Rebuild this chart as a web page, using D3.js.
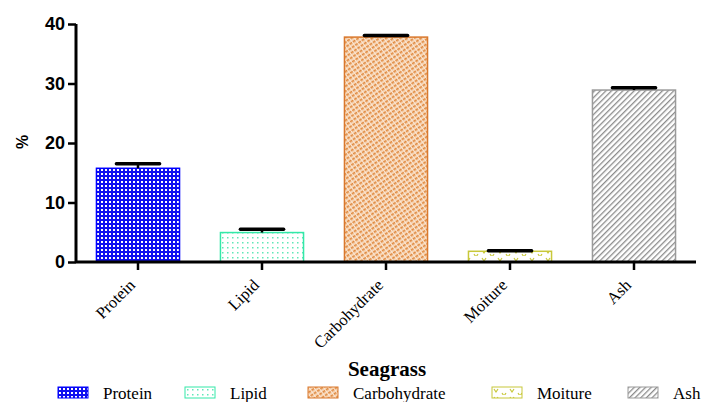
<!DOCTYPE html>
<html>
<head>
<meta charset="utf-8">
<script src="https://cdn.jsdelivr.net/npm/d3@7"></script>
<style>
  body { margin: 0; background: #fff; }
  svg { display: block; }
</style>
</head>
<body>
<div id="chart"></div>
<script>
const categories = ["Protein", "Lipid", "Carbohydrate", "Moiture", "Ash"];
const values = [15.75, 4.95, 37.8, 1.8, 28.9];
const errors = [0.75, 0.55, 0.25, 0.1, 0.4];
const yTicks = [0, 10, 20, 30, 40];
const colors = ["#0000ff", "#33e8a8", "#d9782d", "#c8c83a", "#9a9a9a"];
const patternIds = ["pProtein", "pLipid", "pCarbo", "pMoist", "pAsh"];

const W = 701, H = 402;
const svg = d3.select("#chart").append("svg")
  .attr("width", W).attr("height", H);

const defs = svg.append("defs");

// protein: blue checker
let p = defs.append("pattern").attr("id", "pProtein").attr("patternUnits", "userSpaceOnUse")
  .attr("width", 4).attr("height", 4);
p.append("rect").attr("width", 4).attr("height", 4).attr("fill", "#1010f0");
p.append("rect").attr("x", 1).attr("y", 1).attr("width", 2).attr("height", 2).attr("fill", "#ffffff");

// lipid: sparse green dots
p = defs.append("pattern").attr("id", "pLipid").attr("patternUnits", "userSpaceOnUse")
  .attr("width", 5).attr("height", 5);
p.append("rect").attr("width", 5).attr("height", 5).attr("fill", "#fff");
p.append("rect").attr("x", 2).attr("y", 2).attr("width", 1.5).attr("height", 1.5).attr("fill", "#5fe8b8");

// carbohydrate: orange crosshatch
p = defs.append("pattern").attr("id", "pCarbo").attr("patternUnits", "userSpaceOnUse")
  .attr("width", 4).attr("height", 4).attr("patternTransform", "rotate(-35)");
p.append("rect").attr("width", 4).attr("height", 4).attr("fill", "#f6d4b4");
p.append("rect").attr("width", 4).attr("height", 1.6).attr("fill", "#e08a40");
p.append("rect").attr("x", 0).attr("width", 1).attr("height", 4).attr("fill", "#fbe8d6");

// moisture: small v marks
p = defs.append("pattern").attr("id", "pMoist").attr("patternUnits", "userSpaceOnUse")
  .attr("width", 16).attr("height", 8);
p.append("rect").attr("width", 16).attr("height", 8).attr("fill", "#fff");
p.append("path").attr("d", "M2,2 L4,5 L6,2 M10,6 L12,9 L14,6").attr("stroke", "#c8c83a")
  .attr("stroke-width", 1.2).attr("fill", "none");

// ash: gray diagonal lines (/)
p = defs.append("pattern").attr("id", "pAsh").attr("patternUnits", "userSpaceOnUse")
  .attr("width", 4).attr("height", 4).attr("patternTransform", "rotate(-45)");
p.append("rect").attr("width", 4).attr("height", 4).attr("fill", "#fff");
p.append("rect").attr("width", 4).attr("height", 1.3).attr("fill", "#8c8c8c");

const x = d3.scaleBand().domain(categories).range([76, 696])
  .paddingInner(0.33).paddingOuter(0.165);
const y = d3.scaleLinear().domain([0, 40]).range([262, 24]);

// bars
svg.selectAll("rect.bar").data(categories).enter().append("rect")
  .attr("class", "bar")
  .attr("x", d => x(d))
  .attr("y", (d, i) => y(values[i]))
  .attr("width", x.bandwidth())
  .attr("height", (d, i) => y(0) - y(values[i]))
  .attr("fill", (d, i) => `url(#${patternIds[i]})`)
  .attr("stroke", (d, i) => colors[i])
  .attr("stroke-width", 1.5);

// error bars
const capW = x.bandwidth() * 0.52;
const eb = svg.selectAll("g.err").data(categories).enter().append("g").attr("class", "err");
eb.append("line")
  .attr("x1", d => x(d) + x.bandwidth() / 2).attr("x2", d => x(d) + x.bandwidth() / 2)
  .attr("y1", (d, i) => y(values[i])).attr("y2", (d, i) => y(values[i] + errors[i]))
  .attr("stroke", "#000").attr("stroke-width", 2.5);
eb.append("line")
  .attr("x1", d => x(d) + x.bandwidth() / 2 - capW / 2).attr("x2", d => x(d) + x.bandwidth() / 2 + capW / 2)
  .attr("y1", (d, i) => y(values[i] + errors[i])).attr("y2", (d, i) => y(values[i] + errors[i]))
  .attr("stroke", "#000").attr("stroke-width", 3.5).attr("stroke-linecap", "round");

// y axis
const yAxis = svg.append("g").attr("transform", "translate(76,0)")
  .call(d3.axisLeft(y).tickValues(yTicks).tickSize(8).tickPadding(3));
yAxis.select(".domain").attr("stroke-width", 3).attr("d", "M0,24V262");
yAxis.selectAll(".tick line").attr("stroke-width", 2.5);
yAxis.selectAll("text").attr("font-family", "Liberation Sans, Arial, sans-serif")
  .attr("font-weight", "bold").attr("font-size", 18).attr("fill", "#000");

// x axis
const xAxis = svg.append("g").attr("transform", "translate(0,262)")
  .call(d3.axisBottom(x).tickSize(8).tickFormat(""));
xAxis.select(".domain").attr("stroke-width", 3).attr("d", "M76,0H696");
xAxis.selectAll(".tick line").attr("stroke-width", 2.5);

// rotated category labels
svg.selectAll("text.cat").data(categories).enter().append("text")
  .attr("class", "cat")
  .attr("transform", d => `translate(${x(d) + x.bandwidth() / 2 - 6},${282}) rotate(-45)`)
  .attr("text-anchor", "end")
  .attr("dy", "0.35em")
  .attr("font-family", "Liberation Serif, Times New Roman, serif")
  .attr("font-size", 16.5)
  .text(d => d);

// y label
svg.append("text")
  .attr("transform", "translate(28,142) rotate(-90)")
  .attr("text-anchor", "middle")
  .attr("font-family", "Liberation Sans, Arial, sans-serif")
  .attr("font-weight", "bold").attr("font-size", 16)
  .text("%");

// x title
svg.append("text")
  .attr("x", 387).attr("y", 376)
  .attr("text-anchor", "middle")
  .attr("font-family", "Liberation Serif, Times New Roman, serif")
  .attr("font-weight", "bold").attr("font-size", 21)
  .text("Seagrass");

// legend
const legendX = [58, 185, 308, 492, 628];
const lg = svg.selectAll("g.leg").data(categories).enter().append("g")
  .attr("class", "leg")
  .attr("transform", (d, i) => `translate(${legendX[i]},387)`);
lg.append("rect").attr("width", 30).attr("height", 11)
  .attr("fill", (d, i) => `url(#${patternIds[i]})`)
  .attr("stroke", (d, i) => colors[i]).attr("stroke-width", 1);
lg.append("text").attr("x", 45).attr("y", 12)
  .attr("font-family", "Liberation Serif, Times New Roman, serif")
  .attr("font-size", 17)
  .text(d => d);
</script>
</body>
</html>
